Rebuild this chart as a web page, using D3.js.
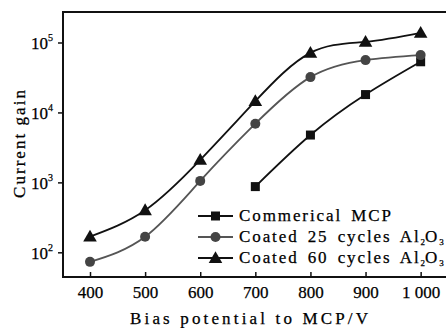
<!DOCTYPE html>
<html>
<head>
  <script src="https://d3js.org/d3.v7.min.js"></script>
  <style>
    body { margin: 0; background: #fff; }
    text { font-family: "Liberation Serif", "Times New Roman", serif; fill: #000; stroke: #000; stroke-width: 0.25px; }
  </style>
</head>
<body>
  <div id="chart"></div>
  <script>
    // values
    const voltages = [400, 500, 600, 700, 800, 900, 1000];
    const commercial = [null, null, null, 870, 4750, 18000, 53000];
    const coated25 = [73, 167, 1050, 6900, 32000, 56000, 66000];
    const coated60 = [168, 400, 2100, 14500, 71000, 102000, 137000];
    const yTicks = [1e2, 1e3, 1e4, 1e5];
    const seriesNames = ["Commerical MCP", "Coated 25 cycles Al", "Coated 60 cycles Al"];

    const width = 446, height = 328;
    const plotLeft = 63, plotTop = 12, plotBottom = 277;

    const svg = d3.select("#chart").append("svg")
      .attr("width", width)
      .attr("height", height);

    const x = d3.scaleLinear().domain([351, 1046]).range([plotLeft, width]);
    const y = d3.scaleLog().domain([Math.pow(10, 1.647), Math.pow(10, 5.436)]).range([plotBottom, plotTop]);

    // frame: left, top and bottom lines
    svg.append("path")
      .attr("d", `M${width},${plotTop}H${plotLeft}V${plotBottom}H${width}`)
      .attr("fill", "none")
      .attr("stroke", "#111")
      .attr("stroke-width", 2);

    // x ticks point inward
    const xAxis = svg.append("g")
      .attr("transform", `translate(0,${plotBottom})`)
      .call(d3.axisBottom(x).tickValues(voltages).tickSizeInner(-5).tickSizeOuter(0)
        .tickFormat(d => d === 1000 ? "1 000" : d));
    xAxis.select(".domain").remove();
    xAxis.selectAll("line").attr("stroke", "#111").attr("stroke-width", 1.5);
    xAxis.selectAll("text")
      .attr("y", 21)
      .attr("dy", 0)
      .attr("fill", "#000")
      .style("font-size", "17px")
      .style("font-family", "Liberation Serif");

    // y ticks point outward, labels as 10^n
    const yAxis = svg.append("g")
      .attr("transform", `translate(${plotLeft},0)`)
      .call(d3.axisLeft(y).tickValues(yTicks).tickSizeInner(5).tickSizeOuter(0).tickFormat(""));
    yAxis.select(".domain").remove();
    yAxis.selectAll("line").attr("stroke", "#111").attr("stroke-width", 1.5);
    yAxis.selectAll(".tick").append("text")
      .attr("x", -10)
      .attr("y", 6)
      .attr("text-anchor", "end")
      .attr("fill", "#000")
      .style("font-size", "17px")
      .style("font-family", "Liberation Serif")
      .text("10")
      .append("tspan")
      .attr("dy", -8)
      .style("font-size", "10px")
      .text(d => Math.round(Math.log10(d)));

    // axis titles
    svg.append("text")
      .attr("x", 249)
      .attr("y", 324)
      .attr("text-anchor", "middle")
      .attr("textLength", 238)
      .attr("lengthAdjust", "spacing")
      .style("font-size", "17px")
      .text("Bias potential to MCP/V");

    svg.append("text")
      .attr("transform", "translate(25,144) rotate(-90)")
      .attr("text-anchor", "middle")
      .attr("textLength", 108)
      .attr("lengthAdjust", "spacing")
      .style("font-size", "17px")
      .text("Current gain");

    const line = d3.line()
      .defined(d => d[1] != null)
      .x(d => x(d[0]))
      .y(d => y(d[1]))
      .curve(d3.curveNatural);

    const pts = vals => voltages.map((v, i) => [v, vals[i]]);
    const triangle = d3.symbol().type(d3.symbolTriangle).size(80);

    // commercial MCP: squares
    svg.append("path")
      .attr("d", line(pts(commercial)))
      .attr("fill", "none").attr("stroke", "#111").attr("stroke-width", 1.8);
    svg.selectAll(".sq")
      .data(pts(commercial).filter(d => d[1] != null))
      .enter().append("rect")
      .attr("x", d => x(d[0]) - 4.5)
      .attr("y", d => y(d[1]) - 4.5)
      .attr("width", 9).attr("height", 9)
      .attr("fill", "#111");

    // coated 25 cycles: circles
    svg.append("path")
      .attr("d", line(pts(coated25)))
      .attr("fill", "none").attr("stroke", "#555").attr("stroke-width", 1.8);
    svg.selectAll(".ci")
      .data(pts(coated25))
      .enter().append("circle")
      .attr("cx", d => x(d[0]))
      .attr("cy", d => y(d[1]))
      .attr("r", 5)
      .attr("fill", "#444");

    // coated 60 cycles: triangles
    svg.append("path")
      .attr("d", line(pts(coated60)))
      .attr("fill", "none").attr("stroke", "#111").attr("stroke-width", 1.8);
    svg.selectAll(".tr")
      .data(pts(coated60))
      .enter().append("path")
      .attr("transform", d => `translate(${x(d[0])},${y(d[1]) + 1})`)
      .attr("d", triangle)
      .attr("fill", "#111");

    // legend
    const legend = svg.append("g").attr("transform", "translate(198,216)");
    const rowGap = 21;
    legend.selectAll("line")
      .data(seriesNames)
      .enter().append("line")
      .attr("x1", 0).attr("x2", 35)
      .attr("y1", (d, i) => i * rowGap).attr("y2", (d, i) => i * rowGap)
      .attr("stroke", (d, i) => i === 1 ? "#555" : "#111")
      .attr("stroke-width", 2);
    legend.append("rect").attr("x", 13).attr("y", -4.5).attr("width", 9).attr("height", 9).attr("fill", "#111");
    legend.append("circle").attr("cx", 17.5).attr("cy", rowGap).attr("r", 5).attr("fill", "#444");
    legend.append("path").attr("transform", `translate(17.5,${2 * rowGap + 1})`).attr("d", triangle).attr("fill", "#111");

    const legendText = legend.selectAll(".lt")
      .data(seriesNames)
      .enter().append("text")
      .attr("x", 41)
      .attr("y", (d, i) => i * rowGap + 5)
      .style("font-size", "17px")
      .style("letter-spacing", "1.9px")
      .style("word-spacing", "3px")
      .text(d => d);
    legendText.filter((d, i) => i > 0).each(function () {
      const t = d3.select(this);
      t.append("tspan").attr("dy", 3).style("font-size", "9px").style("letter-spacing", "0px").text("2");
      t.append("tspan").attr("dy", -3).text("O");
      t.append("tspan").attr("dy", 3).style("font-size", "9px").style("letter-spacing", "0px").text("3");
    });
  </script>
</body>
</html>
